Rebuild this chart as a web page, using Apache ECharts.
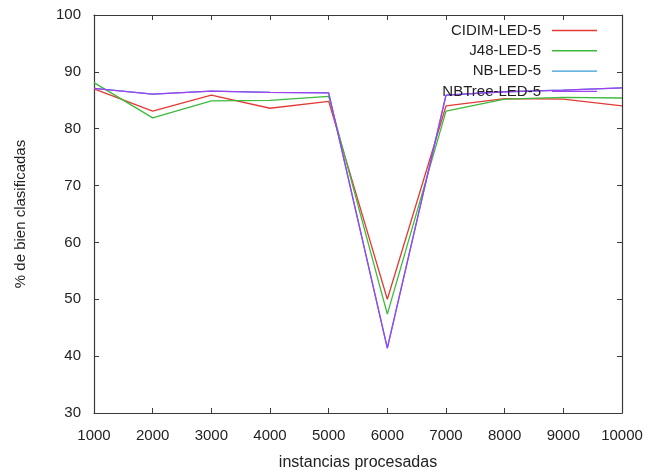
<!DOCTYPE html>
<html>
<head>
<meta charset="utf-8">
<script src="https://cdn.jsdelivr.net/npm/echarts@6/dist/echarts.min.js"></script>
<style>html,body{margin:0;padding:0;background:#fff}#c{width:654px;height:471px}</style>
</head>
<body>
<div id="c"></div>
<script>
const instances = [1000, 2000, 3000, 4000, 5000, 6000, 7000, 8000, 9000, 10000];
const cidim  = [87.0, 83.1, 85.9, 83.6, 84.8, 50.0, 84.0, 85.3, 85.2, 84.0];
const j48    = [88.1, 81.9, 84.9, 85.0, 85.7, 47.4, 83.1, 85.2, 85.5, 85.4];
const nb     = [87.1, 86.1, 86.6, 86.4, 86.3, 41.4, 85.9, 86.5, 86.8, 87.2];
const nbtree = [87.1, 86.1, 86.6, 86.4, 86.3, 41.4, 85.9, 86.5, 86.8, 87.2];
const seriesNames = ['CIDIM-LED-5', 'J48-LED-5', 'NB-LED-5', 'NBTree-LED-5'];
const colors = ['#e33a36', '#3cba3c', '#3a9ad9', '#a040f0'];
const xTicks = [1000, 10000, 1000];   // min, max, interval
const yTicks = [30, 100, 10];

const font = 'Liberation Sans, Arial, sans-serif';
const pair = (ys) => instances.map((x, i) => [x, ys[i]]);
const allData = [cidim, j48, nb, nbtree];

const axisLine = {show: true, lineStyle: {color: '#3a3a3a', width: 1.2}};
const tick = {show: true, inside: true, length: 5, lineStyle: {color: '#3a3a3a', width: 1}};

const chart = echarts.init(document.getElementById('c'));
chart.setOption({
  animation: false,
  backgroundColor: '#fff',
  grid: {left: 94, right: 32, top: 15, bottom: 58, containLabel: false, outerBoundsMode: 'none'},
  legend: seriesNames.map((n, i) => ({
    data: [n],
    right: 52,
    top: 18 + i * 20.3,
    align: 'right',
    icon: 'rect',
    itemWidth: 45,
    itemHeight: 1.4,
    textStyle: {fontFamily: font, fontSize: 15, color: '#222', padding: [0, 6, 0, 0]},
    selectedMode: false
  })),
  xAxis: [
    {type: 'value', min: xTicks[0], max: xTicks[1], interval: xTicks[2], position: 'bottom',
     name: 'instancias procesadas', nameLocation: 'middle', nameGap: 42,
     nameTextStyle: {fontFamily: font, fontSize: 16, color: '#222'},
     axisLine, axisTick: tick, splitLine: {show: false},
     axisLabel: {fontFamily: font, fontSize: 15, color: '#222', margin: 15,
                 formatter: (v) => String(v)}},
    {type: 'value', min: xTicks[0], max: xTicks[1], interval: xTicks[2], position: 'top',
     axisLine, axisTick: tick, splitLine: {show: false}, axisLabel: {show: false}}
  ],
  yAxis: [
    {type: 'value', min: yTicks[0], max: yTicks[1], interval: yTicks[2], position: 'left',
     name: '% de bien clasificadas', nameLocation: 'middle', nameGap: 66,
     nameTextStyle: {fontFamily: font, fontSize: 15, color: '#222'},
     axisLine, axisTick: tick, splitLine: {show: false},
     axisLabel: {fontFamily: font, fontSize: 15, color: '#222', margin: 13}},
    {type: 'value', min: yTicks[0], max: yTicks[1], interval: yTicks[2], position: 'right',
     axisLine, axisTick: tick, splitLine: {show: false}, axisLabel: {show: false}}
  ],
  series: seriesNames.map((n, i) => ({
    name: n, type: 'line', data: pair(allData[i]),
    showSymbol: false, symbol: 'none',
    lineStyle: {color: colors[i], width: 1.3},
    itemStyle: {color: colors[i]}
  }))
});
</script>
</body>
</html>
